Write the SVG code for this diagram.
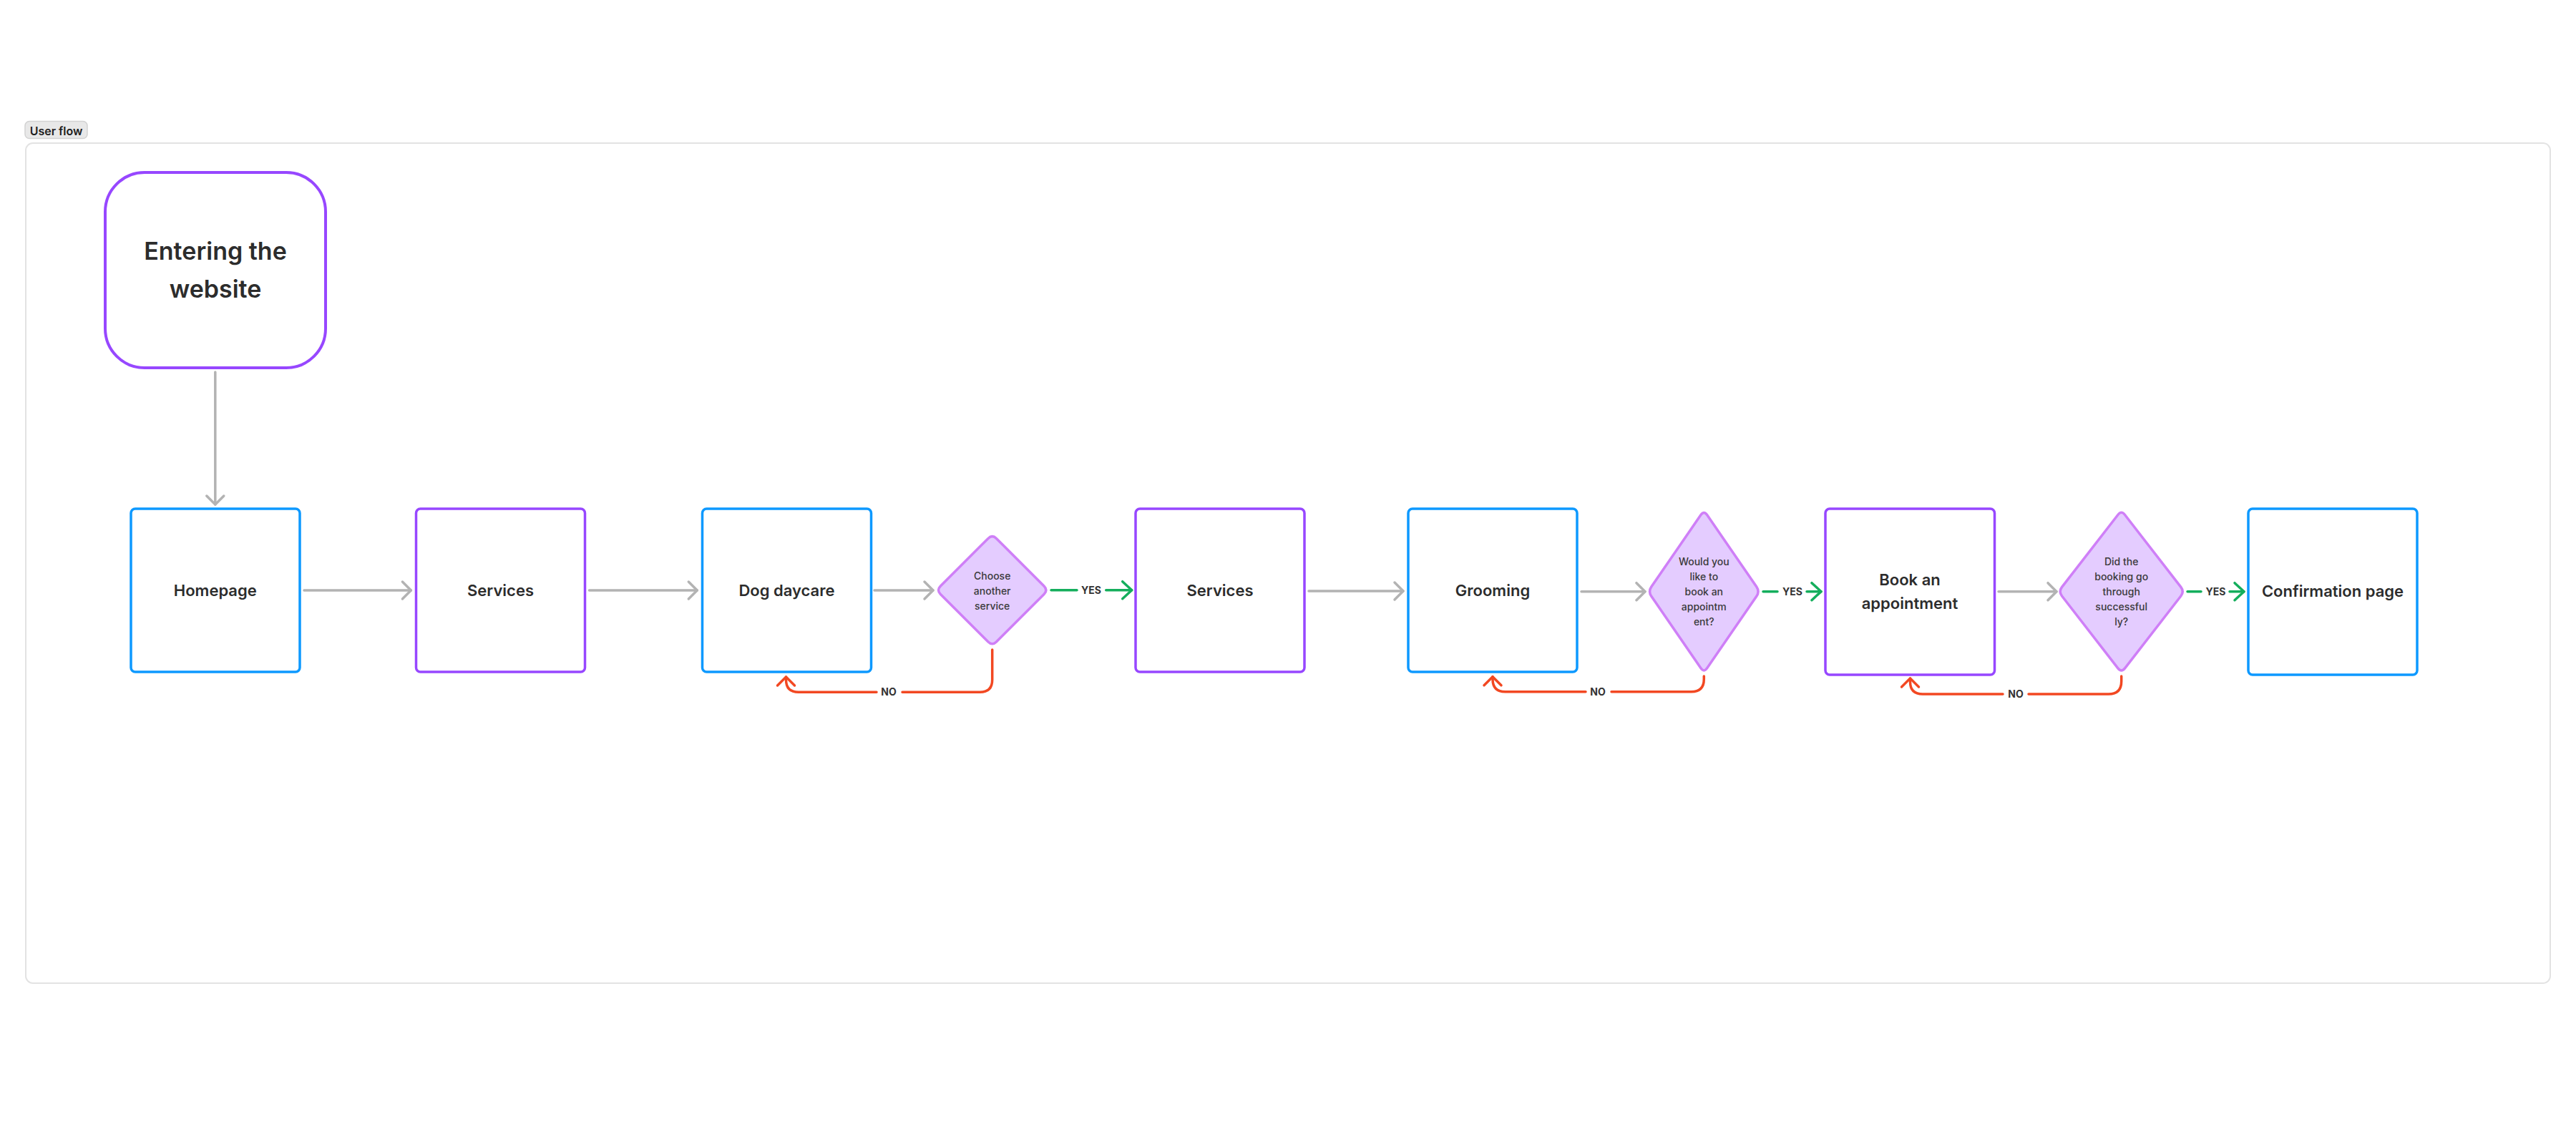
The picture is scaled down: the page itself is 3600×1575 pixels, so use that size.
<svg xmlns="http://www.w3.org/2000/svg" width="3600" height="1575" viewBox="0 0 3600 1575">
<style>
text{font-family:Inter,"Liberation Sans",sans-serif;fill:#2c2c2c;text-anchor:middle}
.lbl{font-size:22px;font-weight:600}
.big{font-size:34px;font-weight:600}
.q{font-size:14px;font-weight:500;fill:#3a3a3a}
.tag{font-size:16px;font-weight:600;fill:#1e1e1e}
.el{font-size:14px;font-weight:700;fill:#333}
.box{fill:#fff;stroke-width:3.5}
.blue{stroke:#0d99ff}
.purple{stroke:#9747ff}
.dia{fill:#e4ccff;stroke:#cf7ff7;stroke-width:3.5;stroke-linejoin:round}
.c{fill:none;stroke-width:3.5;stroke-linecap:round;stroke-linejoin:round}
.grey{stroke:#b3b3b3}
.green{stroke:#14ae5c}
.red{stroke:#f24822}
</style>
<defs>
<marker id="ag" markerUnits="userSpaceOnUse" viewBox="-16 -16 32 32" markerWidth="32" markerHeight="32" refX="0" refY="0" orient="auto" overflow="visible">
<path d="M-12,-12 L0,0 L-12,12" fill="none" stroke="#b3b3b3" stroke-width="3.5" stroke-linecap="round" stroke-linejoin="round"/>
</marker>
<marker id="agr" markerUnits="userSpaceOnUse" viewBox="-16 -16 32 32" markerWidth="32" markerHeight="32" refX="0" refY="0" orient="auto" overflow="visible">
<path d="M-13,-12 L0,0 L-13,12" fill="none" stroke="#14ae5c" stroke-width="3.5" stroke-linecap="round" stroke-linejoin="round"/>
</marker>
<marker id="ar" markerUnits="userSpaceOnUse" viewBox="-16 -16 32 32" markerWidth="32" markerHeight="32" refX="0" refY="0" orient="auto" overflow="visible">
<path d="M-12,-12 L0,0 L-12,12" fill="none" stroke="#f24822" stroke-width="3.5" stroke-linecap="round" stroke-linejoin="round"/>
</marker>
</defs>
<rect width="3600" height="1575" fill="#fff"/>
<g id="frame">
<rect x="36" y="200" width="3528" height="1174" rx="10" fill="#fff" stroke="#e3e3e3" stroke-width="2"/>
<rect x="35" y="169.5" width="87" height="24" rx="6" fill="#e8e8e8" stroke="#d2d2d2" stroke-width="1.5"/>
<text class="tag" x="78.5" y="188.5">User flow</text>
</g>
<g id="connectors">
<path class="c grey" d="M300.8,520 L300.8,705" marker-end="url(#ag)"/>
<path class="c grey" d="M425,825 L574.4,825" marker-end="url(#ag)"/>
<path class="c grey" d="M823.5,825 L974.3,825" marker-end="url(#ag)"/>
<path class="c grey" d="M1222,825 L1304,825" marker-end="url(#ag)"/>
<path class="c grey" d="M1829,826 L1961,826" marker-end="url(#ag)"/>
<path class="c grey" d="M2210,826.7 L2299,826.7" marker-end="url(#ag)"/>
<path class="c grey" d="M2793,826.7 L2874,826.7" marker-end="url(#ag)"/>
<path class="c green" d="M1469,824.7 L1505,824.7 M1545.7,824.7 L1581.7,824.7" marker-end="url(#agr)"/>
<path class="c green" d="M2464,826.7 L2484,826.7 M2525,826.7 L2545,826.7" marker-end="url(#agr)"/>
<path class="c green" d="M3057,826.7 L3076,826.7 M3116,826.7 L3136,826.7" marker-end="url(#agr)"/>
<path class="c red" d="M1386.7,908 L1386.7,950 Q1386.7,967.3 1369.4,967.3 L1261,967.3 M1225,967.3 L1116,967.3 Q1098.5,967.3 1098.5,950 L1098.5,946" marker-end="url(#ar)"/>
<path class="c red" d="M2381.3,945 L2381.3,949 Q2381.3,966.7 2363.6,966.7 L2252,966.7 M2216,966.7 L2103.5,966.7 Q2086,966.7 2086,949 L2086,945.7" marker-end="url(#ar)"/>
<path class="c red" d="M2964.7,945 L2964.7,952 Q2964.7,970 2946.7,970 L2835,970 M2799,970 L2687,970 Q2669.5,970 2669.5,953 L2669.5,948" marker-end="url(#ar)"/>
<text class="el" x="1525" y="830">YES</text>
<text class="el" x="2505" y="831.7">YES</text>
<text class="el" x="3096.5" y="831.7">YES</text>
<text class="el" x="1242" y="972.3">NO</text>
<text class="el" x="2233" y="971.7">NO</text>
<text class="el" x="2817" y="975">NO</text>
</g>
<g id="n-entering">
<rect x="147" y="241" width="308" height="273" rx="55" fill="#fff" stroke="#9747ff" stroke-width="4"/>
<text class="big" x="301" y="363">Entering the</text>
<text class="big" x="301" y="416">website</text>
</g>
<g id="n-homepage">
<rect class="box blue" x="183" y="711" width="236" height="228" rx="6"/>
<text class="lbl" x="300.8" y="833">Homepage</text>
</g>
<g id="n-services1">
<rect class="box purple" x="581.5" y="711" width="236" height="228" rx="6"/>
<text class="lbl" x="699.5" y="833">Services</text>
</g>
<g id="n-dogdaycare">
<rect class="box blue" x="981.5" y="711" width="236" height="228" rx="6"/>
<text class="lbl" x="1099.5" y="833">Dog daycare</text>
</g>
<g id="d-another">
<path class="dia" d="M1392.4,752.4 L1459,819 Q1464.7,824.7 1459,830.4 L1392.4,897 Q1386.7,902.7 1381,897 L1314.4,830.4 Q1308.7,824.7 1314.4,819 L1381,752.4 Q1386.7,746.7 1392.4,752.4 Z"/>
<text class="q" x="1386.7" y="810">Choose</text>
<text class="q" x="1386.7" y="831">another</text>
<text class="q" x="1386.7" y="852">service</text>
</g>
<g id="n-services2">
<rect class="box purple" x="1587" y="711" width="236" height="228" rx="6"/>
<text class="lbl" x="1705" y="833">Services</text>
</g>
<g id="n-grooming">
<rect class="box blue" x="1968" y="711" width="236" height="228" rx="6"/>
<text class="lbl" x="2086" y="833">Grooming</text>
</g>
<g id="d-book">
<path class="dia" d="M2385.8,719.8 L2454.8,820.1 Q2459.3,826.7 2454.8,833.3 L2385.8,933.6 Q2381.3,940.2 2376.8,933.6 L2307.8,833.3 Q2303.3,826.7 2307.8,820.1 L2376.8,719.8 Q2381.3,713.2 2385.8,719.8 Z"/>
<text class="q" x="2381.3" y="790">Would you</text>
<text class="q" x="2381.3" y="811">like to</text>
<text class="q" x="2381.3" y="832">book an</text>
<text class="q" x="2381.3" y="853">appointm</text>
<text class="q" x="2381.3" y="874">ent?</text>
</g>
<g id="n-book">
<rect class="box purple" x="2551" y="711" width="236.5" height="232" rx="6"/>
<text class="lbl" x="2669" y="818">Book an</text>
<text class="lbl" x="2669" y="851">appointment</text>
</g>
<g id="d-success">
<path class="dia" d="M2969.6,719.5 L3047.8,820.4 Q3052.7,826.7 3047.8,833 L2969.6,933.9 Q2964.7,940.2 2959.8,933.9 L2881.6,833 Q2876.7,826.7 2881.6,820.4 L2959.8,719.5 Q2964.7,713.2 2969.6,719.5 Z"/>
<text class="q" x="2964.7" y="790">Did the</text>
<text class="q" x="2964.7" y="811">booking go</text>
<text class="q" x="2964.7" y="832">through</text>
<text class="q" x="2964.7" y="853">successful</text>
<text class="q" x="2964.7" y="874">ly?</text>
</g>
<g id="n-confirmation">
<rect class="box blue" x="3142" y="711" width="236" height="232" rx="6"/>
<text class="lbl" x="3260" y="834">Confirmation page</text>
</g>
</svg>
